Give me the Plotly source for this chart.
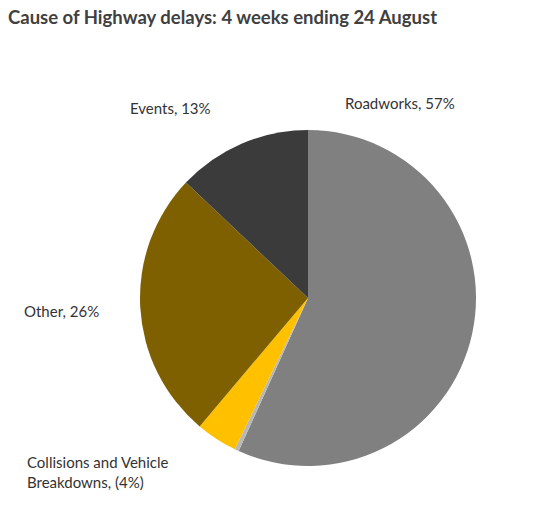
import plotly.graph_objects as go

# Data
labels = ["Roadworks", "Unlabelled", "Collisions and Vehicle Breakdowns", "Other", "Events"]
values = [57, 0.4, 4, 26, 13]
colors = ["#808080", "#b8b8b8", "#ffc000", "#7f6000", "#3b3b3b"]

W, H = 553, 524
OFF = 8  # page body margin

fig = go.Figure()
fig.add_trace(go.Pie(
    labels=labels,
    values=values,
    sort=False,
    direction="clockwise",
    rotation=0,
    textinfo="none",
    marker=dict(colors=colors, line=dict(width=0)),
    domain=dict(x=[(308 - OFF - 168) / W, (308 - OFF + 168) / W],
                y=[1 - (466 - OFF) / H, 1 - (130 - OFF) / H]),
    showlegend=False,
    hoverinfo="label+percent",
))

font = dict(family="Lato", size=15, color="#333333")
label_pos = [
    ("Roadworks, 57%", 343, 103),
    ("Events, 13%", 128, 108),
    ("Other, 26%", 22, 311),
    ("Collisions and Vehicle<br>Breakdowns, (4%)", 25, 472),
]
for text, px, py in label_pos:
    fig.add_annotation(
        text=text, x=(px - OFF) / W, y=1 - (py - OFF) / H, xref="paper", yref="paper",
        xanchor="left", yanchor="middle", align="left", showarrow=False, font=font,
    )

fig.update_layout(
    title=dict(
        text="<b>Cause of Highway delays: 4 weeks ending 24 August</b>",
        x=0, xanchor="left", y=1 - 10 / H, yanchor="middle",
        font=dict(family="Lato", size=18.5, color="#404040"),
    ),
    width=W, height=H,
    margin=dict(l=0, r=0, t=0, b=0),
    paper_bgcolor="white",
)

fig.write_html("out.html")
